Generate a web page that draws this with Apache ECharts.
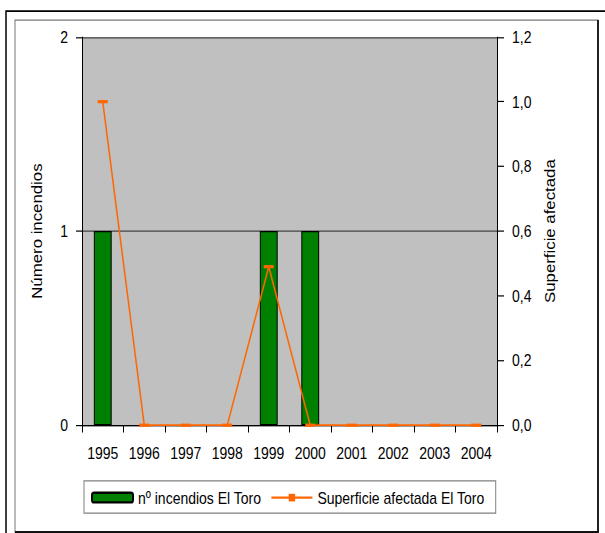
<!DOCTYPE html>
<html>
<head>
<meta charset="utf-8">
<script src="https://cdn.jsdelivr.net/npm/echarts@6/dist/echarts.min.js"></script>
<style>
html,body{margin:0;padding:0;background:#fff;overflow:hidden;}
#wrap{width:605px;height:533px;overflow:hidden;}
#chart{width:605px;height:444px;transform:scaleY(1.2005);transform-origin:0 0;}
</style>
</head>
<body>
<div id="wrap"><div id="chart"></div></div>
<script>
const years = ['1995','1996','1997','1998','1999','2000','2001','2002','2003','2004'];
const incendios = [1, 0, 0, 0, 1, 1, 0, 0, 0, 0];
const superficie = [1.0, 0, 0, 0, 0.49, 0, 0, 0, 0, 0];
const barName = 'nº incendios El Toro';
const lineName = 'Superficie afectada El Toro';
const leftAxisName = 'Número incendios';
const rightAxisName = 'Superficie afectada';

const chart = echarts.init(document.getElementById('chart'), null, {renderer: 'svg'});
const font = 'Liberation Sans, Arial, sans-serif';
chart.setOption({
  animation: false,
  textStyle: {fontFamily: font, color: '#000'},
  graphic: [
    {type: 'rect', shape: {x: 6, y: 9.2, width: 700, height: 500}, style: {fill: 'none', stroke: '#000', lineWidth: 1.5}, silent: true, z: -10},
    {type: 'rect', shape: {x: 15, y: 16.7, width: 583, height: 426.6}, style: {fill: '#fff', stroke: '#777', lineWidth: 1}, silent: true, z: -9},
    {type: 'polyline', shape: {points: [[598, 16.7], [598, 443.3], [15, 443.3]]}, style: {fill: 'none', stroke: '#111', lineWidth: 1.8}, silent: true, z: -8}
  ],
  grid: {left: 82, right: 108, top: 30.8, height: 323.4, show: true, backgroundColor: '#C0C0C0', borderWidth: 0, containLabel: false},
  legend: {
    left: 84, top: 400.5,
    padding: [7, 11, 6, 7],
    borderColor: '#808080', borderWidth: 1,
    itemWidth: 41, itemHeight: 8, itemGap: 9,
    textStyle: {fontFamily: font, fontSize: 14, color: '#000'},
    data: [{name: barName}, {name: lineName}]
  },
  xAxis: {
    type: 'category', data: years, boundaryGap: true,
    axisLine: {lineStyle: {color: '#000', width: 1}},
    axisTick: {show: true, length: 6, lineStyle: {color: '#000'}},
    axisLabel: {fontFamily: font, fontSize: 14, color: '#000', margin: 16}
  },
  yAxis: [
    {
      type: 'value', min: 0, max: 2, interval: 1, position: 'left',
      name: leftAxisName, nameLocation: 'middle', nameGap: 38, nameRotate: 90,
      nameTextStyle: {fontFamily: font, fontSize: 14, color: '#000'},
      axisLine: {show: true, lineStyle: {color: '#000', width: 1}},
      axisTick: {show: true, length: 6, lineStyle: {color: '#000'}},
      axisLabel: {fontFamily: font, fontSize: 14, color: '#000', margin: 14},
      splitLine: {show: true, lineStyle: {color: '#444', width: 1}}
    },
    {
      type: 'value', min: 0, max: 1.2, interval: 0.2, position: 'right',
      name: rightAxisName, nameLocation: 'middle', nameGap: 46, nameRotate: 90,
      nameTextStyle: {fontFamily: font, fontSize: 14, color: '#000'},
      axisLine: {show: true, lineStyle: {color: '#000', width: 1}},
      axisTick: {show: true, length: 7, lineStyle: {color: '#000'}},
      axisLabel: {fontFamily: font, fontSize: 14, color: '#000', margin: 15,
        formatter: v => v.toFixed(1).replace('.', ',')},
      splitLine: {show: false}
    }
  ],
  series: [
    {
      name: barName, type: 'bar', yAxisIndex: 0, barWidth: '43%',
      data: incendios.map(v => v === 0 ? null : v),
      itemStyle: {color: '#008000', borderColor: '#000', borderWidth: 1}
    },
    {
      name: lineName, type: 'line', yAxisIndex: 1,
      data: superficie,
      symbol: 'rect', symbolSize: [10, 2.7], showSymbol: true,
      lineStyle: {color: '#FF6600', width: 1.5},
      itemStyle: {color: '#FF6600'},
      z: 5
    }
  ]
});
</script>
</body>
</html>
